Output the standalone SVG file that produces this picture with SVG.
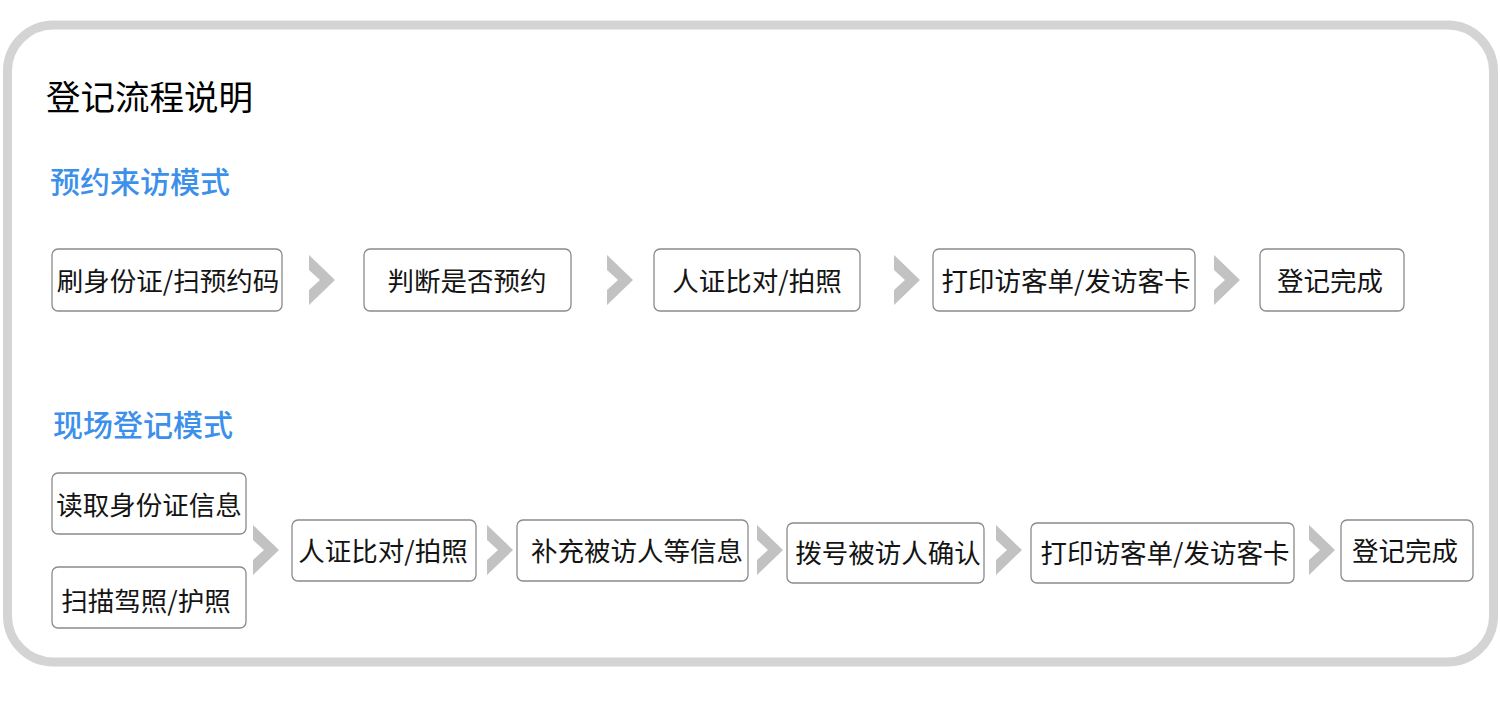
<svg xmlns="http://www.w3.org/2000/svg" xmlns:xlink="http://www.w3.org/1999/xlink" width="1500" height="716" viewBox="0 0 1500 716">
<style>
.frame{fill:#ffffff;stroke:#d4d4d4;stroke-width:9}
.box{fill:#ffffff;stroke:#8a8a8a;stroke-width:1.3}
.t{font-family:"Noto Sans CJK SC","Noto Sans",sans-serif;font-size:26.5px;fill:#141414;text-anchor:middle;dominant-baseline:central}
.title{font-family:"Noto Sans CJK SC","Noto Sans",sans-serif;font-size:34.5px;fill:#000000;font-weight:400;dominant-baseline:central}
.sub{font-family:"Noto Sans CJK SC","Noto Sans",sans-serif;font-size:30px;fill:#3d90ea;font-weight:500;dominant-baseline:central}
.chev{fill:#c2c2c2}
</style>
<defs>
<polygon id="chev" points="0,0 26,25 0,50 0,35 11,25 0,15"/>
</defs>
<rect class="frame" x="7.5" y="25" width="1486" height="637" rx="46" ry="46"/>
<text class="title" x="46" y="95">登记流程说明</text>
<text class="sub" x="50" y="180">预约来访模式</text>
<text class="sub" x="53" y="423">现场登记模式</text>

<g id="connectors">
<use class="chev" xlink:href="#chev" x="309" y="255"/>
<use class="chev" xlink:href="#chev" x="607" y="255"/>
<use class="chev" xlink:href="#chev" x="894" y="255"/>
<use class="chev" xlink:href="#chev" x="1214" y="255"/>
<use class="chev" xlink:href="#chev" x="253" y="525"/>
<use class="chev" xlink:href="#chev" x="487" y="525"/>
<use class="chev" xlink:href="#chev" x="757" y="525"/>
<use class="chev" xlink:href="#chev" x="996" y="525"/>
<use class="chev" xlink:href="#chev" x="1309" y="525"/>
</g>

<g id="a1"><rect class="box" x="52" y="249" width="230" height="62" rx="6"/><text class="t" x="168" y="279">刷身份证/扫预约码</text></g>
<g id="a2"><rect class="box" x="364" y="249" width="207" height="62" rx="6"/><text class="t" x="467" y="279">判断是否预约</text></g>
<g id="a3"><rect class="box" x="654" y="249" width="206" height="62" rx="6"/><text class="t" x="757" y="279">人证比对/拍照</text></g>
<g id="a4"><rect class="box" x="933" y="249" width="262" height="62" rx="6"/><text class="t" x="1066" y="279">打印访客单/发访客卡</text></g>
<g id="a5"><rect class="box" x="1260" y="249" width="144" height="62" rx="6"/><text class="t" x="1330" y="279">登记完成</text></g>

<g id="b1"><rect class="box" x="52" y="473" width="194" height="61" rx="6"/><text class="t" x="149" y="503">读取身份证信息</text></g>
<g id="b2"><rect class="box" x="52" y="567" width="194" height="61" rx="6"/><text class="t" x="146" y="599">扫描驾照/护照</text></g>
<g id="b3"><rect class="box" x="292" y="520" width="184" height="61" rx="6"/><text class="t" x="383" y="549">人证比对/拍照</text></g>
<g id="b4"><rect class="box" x="517" y="520" width="231" height="61" rx="6"/><text class="t" x="637" y="549">补充被访人等信息</text></g>
<g id="b5"><rect class="box" x="787" y="523" width="197" height="60" rx="6"/><text class="t" x="888" y="551">拨号被访人确认</text></g>
<g id="b6"><rect class="box" x="1031" y="523" width="263" height="60" rx="6"/><text class="t" x="1165" y="551">打印访客单/发访客卡</text></g>
<g id="b7"><rect class="box" x="1341" y="520" width="132" height="61" rx="6"/><text class="t" x="1405" y="549">登记完成</text></g>
</svg>
